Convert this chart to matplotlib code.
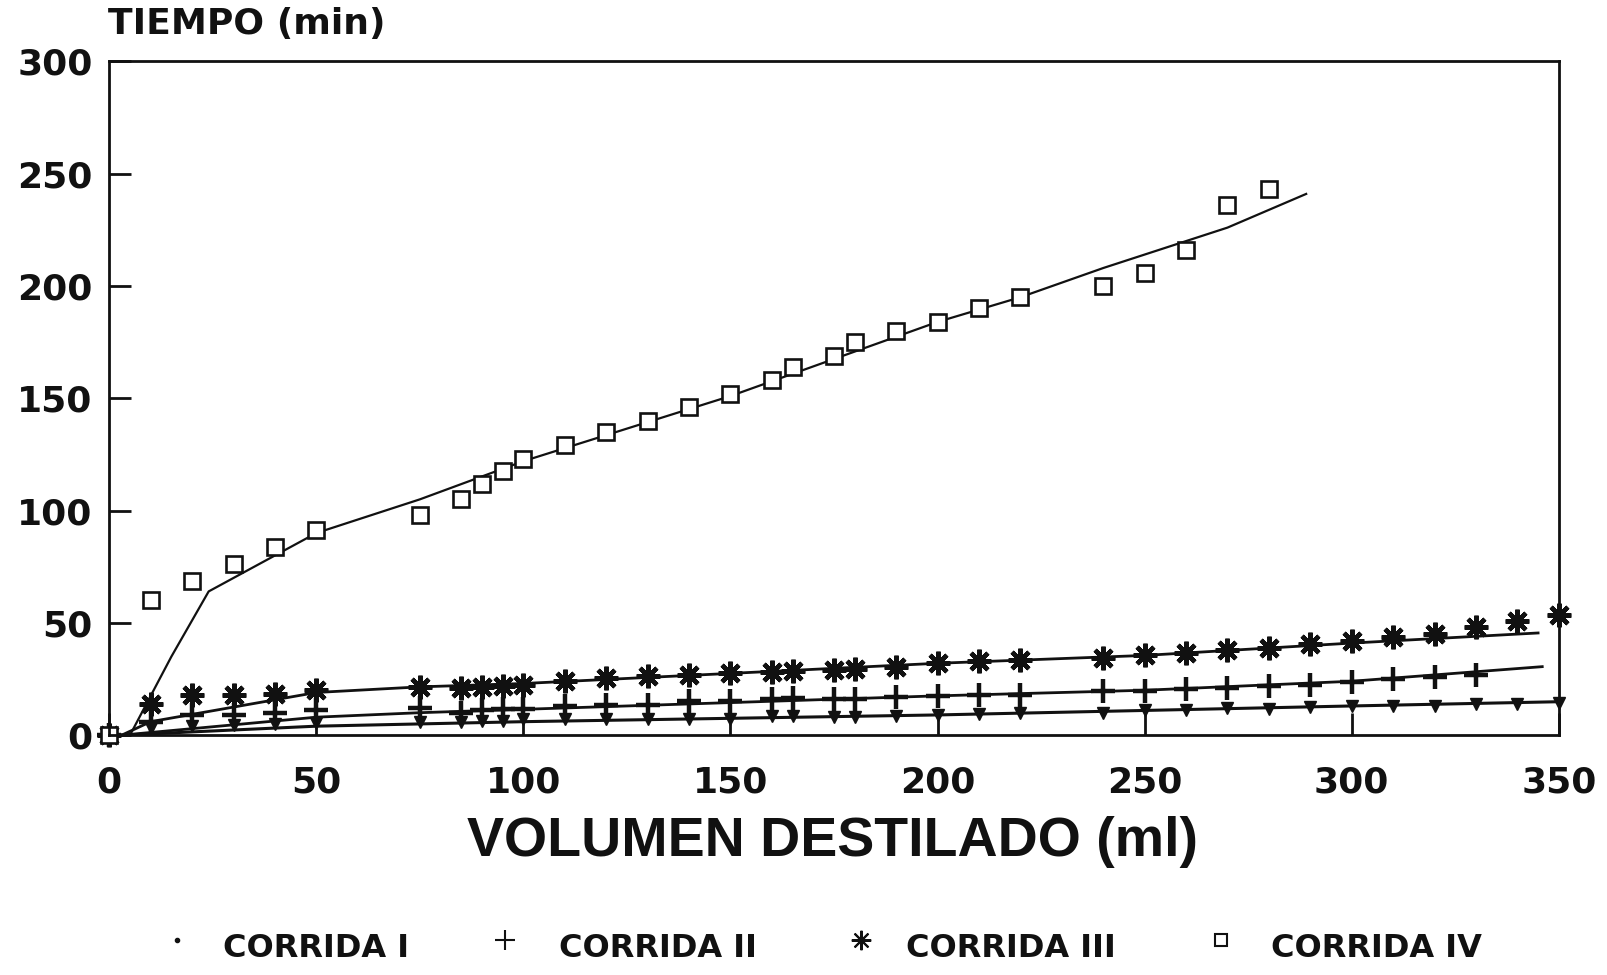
import matplotlib
matplotlib.use("Agg")
import matplotlib.pyplot as plt
from matplotlib.lines import Line2D

# Volumen destilado (ml) vs tiempo (min), cuatro corridas
vol_i = [0, 10, 20, 30, 40, 50, 75, 85, 90, 95, 100, 110, 120, 130, 140, 150,
         160, 165, 175, 180, 190, 200, 210, 220, 240, 250, 260, 270, 280, 290,
         300, 310, 320, 330, 340, 350]
t_i = [0, 3, 4, 4.5, 5, 5.5, 6, 6, 6.5, 6.5, 7, 7, 7, 7, 7, 7,
       8.5, 8.5, 8, 8, 8.5, 9, 9.5, 10, 10, 11, 11, 12, 11.5, 12.5,
       13, 13, 13, 14, 14, 14.5]

vol_ii = [0, 10, 20, 30, 40, 50, 75, 85, 90, 95, 100, 110, 120, 130, 140, 150,
          160, 165, 175, 180, 190, 200, 210, 220, 240, 250, 260, 270, 280, 290,
          300, 310, 320, 330]
t_ii = [0, 6, 9, 9, 10, 11, 12, 10, 11, 11.5, 11.5, 13, 13.5, 13.5, 15, 15,
        16, 16.5, 16, 16, 17, 17.5, 18, 18, 19.5, 19.5, 20.5, 21, 22, 22.5,
        23.5, 25, 26, 27]

vol_iii = [0, 10, 20, 30, 40, 50, 75, 85, 90, 95, 100, 110, 120, 130, 140, 150,
           160, 165, 175, 180, 190, 200, 210, 220, 240, 250, 260, 270, 280, 290,
           300, 310, 320, 330, 340, 350]
t_iii = [0, 14, 18, 18, 18.5, 20, 21.5, 21, 21.5, 22, 22.5, 24, 25.5, 26.5, 27, 27.5,
         28, 28.5, 29, 29.5, 30.5, 32, 33, 33.5, 34.5, 35.5, 36.5, 38, 39, 40.5,
         42, 43.5, 45, 48, 51, 53.5]

vol_iv = [0, 10, 20, 30, 40, 50, 75, 85, 90, 95, 100, 110, 120, 130, 140, 150,
          160, 165, 175, 180, 190, 200, 210, 220, 240, 250, 260, 270, 280]
t_iv = [0, 60, 68.5, 76, 84, 91.5, 98, 105, 112, 117.5, 123, 129, 135, 140, 146, 152,
        158, 164, 169, 175, 180, 184, 190, 195, 200, 206, 216, 236, 243]

# curvas ajustadas
fit_i_x = [3, 50, 100, 150, 200, 250, 300, 353]
fit_i_y = [0, 4, 6, 7.5, 9, 11, 13, 15]
fit_ii_x = [3, 50, 75, 100, 150, 200, 250, 300, 346]
fit_ii_y = [0, 8, 10, 11.5, 14.5, 17.5, 20, 24, 30.5]
fit_iii_x = [3, 10, 50, 75, 100, 150, 200, 250, 300, 345]
fit_iii_y = [0, 6, 19, 21.5, 23, 27.5, 32, 35.5, 41, 45.5]
fit_iv_x = [5, 15, 24, 50, 75, 100, 150, 200, 220, 240, 260, 270, 289]
fit_iv_y = [0, 35, 64, 90, 105, 122, 151, 184, 195, 208, 220, 226, 241]

labels = ["CORRIDA I", "CORRIDA II", "CORRIDA III", "CORRIDA IV"]

fig = plt.figure(figsize=(16.07, 9.75), dpi=100)
ax = fig.add_axes([0.068, 0.246, 0.902, 0.691])

ink = "#111111"
ast = (8, 2, 0)  # asterisco de 8 rayos

ax.plot(fit_i_x, fit_i_y, color=ink, lw=2.2)
ax.plot(fit_ii_x, fit_ii_y, color=ink, lw=2.0)
ax.plot(fit_iii_x, fit_iii_y, color=ink, lw=2.0)
ax.plot(fit_iv_x, fit_iv_y, color=ink, lw=1.6)

ax.plot(vol_i, t_i, ls="none", marker="v", ms=8, color=ink, clip_on=False)
ax.plot(vol_ii, t_ii, ls="none", marker="+", ms=17, mew=3.2, color=ink, clip_on=False)
ax.plot(vol_iii, t_iii, ls="none", marker=ast, ms=17, mew=3.2, color=ink, clip_on=False)
ax.plot(vol_iv, t_iv, ls="none", marker="s", ms=12, mew=1.9, mfc="white",
        mec=ink, clip_on=False)

ax.set_xlim(0, 350)
ax.set_ylim(0, 300)
ax.set_xticks(range(0, 351, 50))
ax.set_yticks(range(0, 301, 50))
ax.tick_params(direction="in", length=16, width=2, colors=ink, labelsize=26)
ax.tick_params(axis="x", pad=22)
ax.tick_params(axis="y", pad=12)
for lab in ax.get_xticklabels() + ax.get_yticklabels():
    lab.set_fontweight("bold")
    lab.set_family("DejaVu Sans")
for sp in ax.spines.values():
    sp.set_linewidth(2)
    sp.set_color(ink)

fig.text(0.067, 0.975, "TIEMPO (min)", fontsize=26, fontweight="bold",
         family="DejaVu Sans", ha="left", va="center", color=ink)
fig.text(0.518, 0.136, "VOLUMEN DESTILADO (ml)", fontsize=40, fontweight="bold",
         family="Liberation Sans", ha="center", va="center", color=ink)

# leyenda inferior
leg_mark_x = [0.110, 0.314, 0.536, 0.760]
leg_text_x = [0.139, 0.348, 0.564, 0.791]
leg_markers = [dict(marker="o", ms=3),
               dict(marker="+", ms=14, mew=1.5),
               dict(marker=ast, ms=14, mew=1.5),
               dict(marker="s", ms=9, mew=1.5, mfc="white")]
for mx, tx, lab, mk in zip(leg_mark_x, leg_text_x, labels, leg_markers):
    fig.add_artist(Line2D([mx], [0.036], ls="none", color=ink, mec=ink,
                          transform=fig.transFigure, **mk))
    fig.text(tx, 0.027, lab, fontsize=23, fontweight="bold", family="DejaVu Sans",
             ha="left", va="center", color=ink)

fig.savefig("out.png", dpi=100)
